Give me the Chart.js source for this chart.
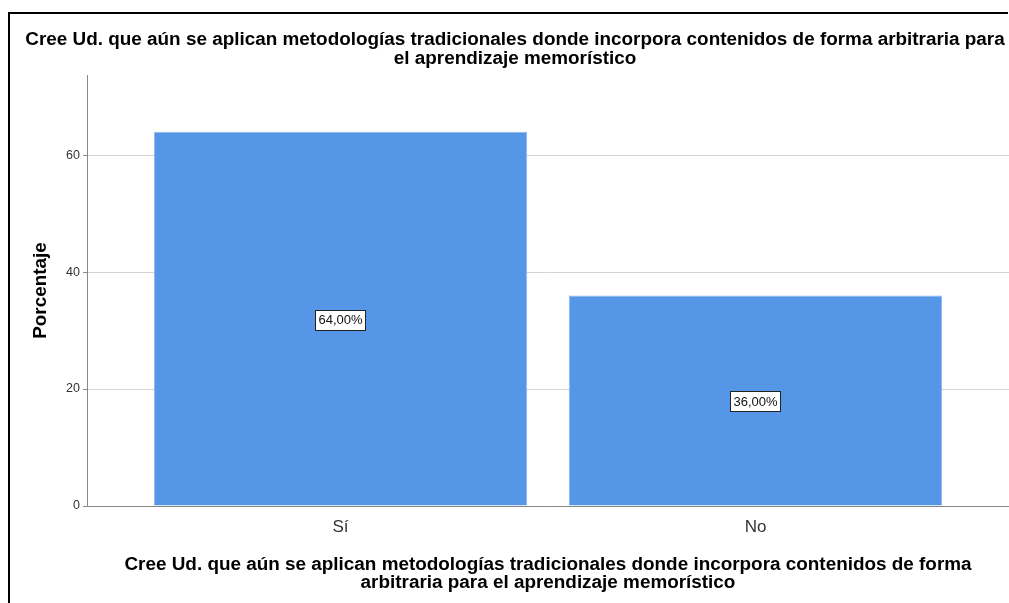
<!DOCTYPE html>
<html><head><meta charset="utf-8">
<script src="https://cdn.jsdelivr.net/npm/chart.js@4"></script>
<style>
html,body{margin:0;padding:0;background:#fff;}
#wrap{position:relative;width:1009px;height:603px;overflow:hidden;}
#frame{position:absolute;left:8px;top:12px;right:1px;bottom:-4px;border-top:2px solid #000;border-left:2px solid #000;pointer-events:none;}
canvas{position:absolute;left:0;top:0;}
</style></head>
<body><div id="wrap"><canvas id="c" width="1009" height="603"></canvas><div id="frame"></div></div>
<script>
const categories = ['Sí', 'No'];
const percentages = [64, 36];
const yTicks = [0, 20, 40, 60];
const yMax = 73.7;
const chartTitle = ['Cree Ud. que aún se aplican metodologías tradicionales donde incorpora contenidos de forma arbitraria para', 'el aprendizaje memorístico'];
const xTitle = ['Cree Ud. que aún se aplican metodologías tradicionales donde incorpora contenidos de forma', 'arbitraria para el aprendizaje memorístico'];
const yTitle = 'Porcentaje';

const FONT = '"Liberation Sans", Arial, sans-serif';
const TSIZE = 18.9;

const titlePlugin = {
  id: 'topTitle',
  afterDraw(chart) {
    const ctx = chart.ctx;
    ctx.save();
    ctx.font = 'bold ' + TSIZE + 'px ' + FONT;
    ctx.fillStyle = '#000';
    ctx.textAlign = 'center';
    ctx.textBaseline = 'middle';
    chartTitle.forEach((t, i) => ctx.fillText(t, 515, 40 + i * 19));
    ctx.restore();
  }
};

const labelPlugin = {
  id: 'barLabels',
  afterDatasetsDraw(chart) {
    const ctx = chart.ctx;
    const meta = chart.getDatasetMeta(0);
    ctx.save();
    ctx.font = '13px ' + FONT;
    ctx.textAlign = 'center';
    ctx.textBaseline = 'middle';
    meta.data.forEach((bar, i) => {
      const txt = percentages[i].toFixed(2).replace('.', ',') + '%';
      const w = ctx.measureText(txt).width + 6;
      const h = 20;
      const cx = bar.x;
      const cy = (bar.y + bar.base) / 2 + 1;
      ctx.fillStyle = '#fff';
      ctx.fillRect(Math.round(cx - w / 2) + 0.5, Math.round(cy - h / 2) + 0.5, Math.round(w), h);
      ctx.strokeStyle = '#222';
      ctx.lineWidth = 1;
      ctx.strokeRect(Math.round(cx - w / 2) + 0.5, Math.round(cy - h / 2) + 0.5, Math.round(w), h);
      ctx.fillStyle = '#111';
      ctx.fillText(txt, cx, cy + 1);
    });
    ctx.restore();
  }
};

new Chart(document.getElementById('c'), {
  type: 'bar',
  data: {
    datasets: [{
      data: percentages.map((v, i) => ({ x: i + 1, y: v })),
      backgroundColor: '#5596e6',
      borderColor: '#8fb6ee',
      borderWidth: { left: 1, right: 1, top: 1, bottom: 0 },
      categoryPercentage: 1,
      barPercentage: 0.9
    }]
  },
  options: {
    responsive: false,
    animation: false,
    events: [],
    layout: { padding: { top: 75, left: 0, right: 0, bottom: 0 } },
    plugins: { legend: { display: false }, tooltip: { enabled: false }, title: { display: false } },
    scales: {
      x: {
        type: 'linear',
        offset: false,
        min: 1 - 0.6108,
        max: 2 + 0.6108,
        afterBuildTicks: (s) => { s.ticks = categories.map((c, i) => ({ value: i + 1 })); },
        afterFit: (s) => { s.height = 97; },
        grid: { display: false, drawTicks: false, offset: false },
        border: { display: true, color: '#888', width: 1 },
        ticks: {
          autoSkip: false,
          maxRotation: 0,
          padding: 11,
          color: '#333',
          font: { family: FONT, size: 17 },
          callback: (v) => categories[v - 1]
        },
        title: {
          display: true,
          text: xTitle,
          color: '#000',
          font: { family: FONT, size: TSIZE, weight: 'bold', lineHeight: 0.96 },
          padding: { top: 0, bottom: 11 }
        }
      },
      y: {
        min: 0,
        max: yMax,
        afterBuildTicks: (s) => { s.ticks = yTicks.map(v => ({ value: v })); },
        afterFit: (s) => { s.width = 87; },
        grid: { color: '#d4d4d4', lineWidth: 1, tickLength: 4, tickColor: '#888' },
        border: { display: true, color: '#888', width: 1 },
        ticks: {
          padding: 3,
          color: '#333',
          font: { family: FONT, size: 12.5 }
        },
        title: {
          display: true,
          text: yTitle,
          color: '#000',
          font: { family: FONT, size: TSIZE, weight: 'bold', lineHeight: 1.2 },
          padding: { top: 29, bottom: 0 }
        }
      }
    }
  },
  plugins: [titlePlugin, labelPlugin]
});
</script>
</body></html>
